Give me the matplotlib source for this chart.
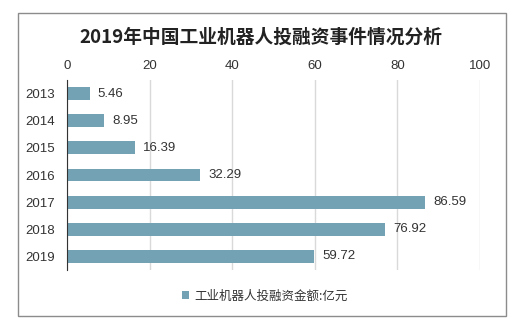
import matplotlib
matplotlib.use("Agg")
import matplotlib.pyplot as plt
from matplotlib.patches import Rectangle

plt.rcParams['font.family'] = ['Noto Sans CJK SC', 'DejaVu Sans']

years = ["2013", "2014", "2015", "2016", "2017", "2018", "2019"]
values = [5.46, 8.95, 16.39, 32.29, 86.59, 76.92, 59.72]
xticks = [0, 20, 40, 60, 80, 100]
title = "2019年中国工业机器人投融资事件情况分析"
legend_label = "工业机器人投融资金额:亿元"

bar_color = "#73A2B5"
W, H = 521, 334
fig = plt.figure(figsize=(W/100, H/100), dpi=100)
fig.patches.append(Rectangle((18/W, 1-316/H), (506-18)/W, (316-13)/H,
                             transform=fig.transFigure, fill=False,
                             edgecolor="#8c8c8c", linewidth=1.0))

ax = fig.add_axes([67/W, 1-270/H, (480-67)/W, (270-80)/H])
ypos = list(range(len(years)))
bars = ax.barh(ypos, values, height=0.47, color=bar_color, label=legend_label, zorder=3)
ax.set_ylim(len(years)-0.5, -0.5)
ax.set_xlim(0, 100)
ax.set_xticks(xticks)
ax.xaxis.tick_top()
ax.set_yticks(ypos)
ax.set_yticklabels(years, family='Liberation Sans', fontsize=9.5, color="#333333")
ax.set_xticklabels([str(t) for t in xticks], family='Liberation Sans', fontsize=9.5, color="#333333")
ax.tick_params(length=0, pad=6)
ax.tick_params(axis='y', pad=9)
ax.grid(axis='x', color="#d9d9d9", linewidth=1, zorder=0)
for s in ['top', 'right', 'bottom']:
    ax.spines[s].set_visible(False)
ax.spines['left'].set_color("#333333")
ax.spines['left'].set_zorder(4)

for b, v in zip(bars, values):
    ax.annotate(f"{v:.2f}", (b.get_width(), b.get_y()+b.get_height()/2),
                xytext=(6, 0), textcoords='offset points', va='center', ha='left',
                family='Liberation Sans', fontsize=9.5, color="#333333")

fig.text(0.5, 1-37/H, title, ha='center', va='center', fontsize=13.5, fontweight='bold', color="#222222")

leg = fig.legend(loc='center', bbox_to_anchor=(0.508, 1-296/H), frameon=False,
                 fontsize=9, handlelength=0.6, handleheight=0.6, handletextpad=0.4)
for t in leg.get_texts():
    t.set_color("#333333")

fig.savefig("out.png", dpi=100)
